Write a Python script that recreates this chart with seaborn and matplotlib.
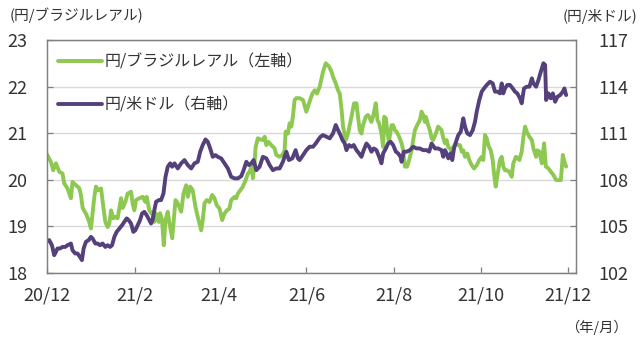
import matplotlib
matplotlib.use("Agg")
import matplotlib.pyplot as plt
from matplotlib.lines import Line2D
import seaborn as sns

# ---- data (days since 2020-12-01) ----
days_brl = [0, 3.1, 4.7, 6.6, 8.9, 11.2, 12.4, 14.7, 17.1, 18.2, 20.6, 22.9, 24.1, 25.3, 27.6, 29.5,
            31.1, 32.3, 33.5, 34.6, 36.5, 38.2, 39.8, 41.2, 42.8, 44, 45.2, 46.8, 48.2, 49.8, 52.2,
            53.3, 55.2, 56.8, 59.2, 60.3, 61.5, 62.7, 65, 67.3, 69.2, 70.1, 72, 74.3, 75.5, 76.7,
            78.6, 79.5, 80.9, 82.1, 83.3, 84.9, 86.1, 88, 89.1, 90.3, 91.9, 94.3, 95.9, 97.8, 98.9,
            100.6, 102.4, 104.3, 105.9, 108.3, 109.4, 110.6, 112.2, 114.1, 116, 117.6, 119.2, 121.1,
            123, 124.6, 126.3, 128.1, 129.3, 131.7, 132.8, 134, 135.6, 137.5, 139.4, 141, 142.2,
            143.4, 144.5, 145.7, 146.4, 148, 149.7, 151.5, 152.7, 153.9, 155.5, 157.4, 159.7, 160.9,
            163.2, 165.1, 166.7, 167.4, 169, 170.2, 171.4, 172.5, 173.7, 174.9, 177.2, 179.6, 181.9,
            183.8, 186.2, 187.8, 189.4, 191.3, 193.6, 195.5, 197.8, 199.5, 200.6, 202.5, 204.1,
            205.3, 206.5, 207.6, 209.5, 211.1, 212.3, 214.2, 215.3, 217, 218.1, 219.3, 220.5, 221.6,
            223.5, 225.1, 226.3, 227.5, 229.1, 230.5, 231.7, 232.9, 234.5, 235.7, 236.4, 237.6,
            238.5, 239.7, 241.6, 242.7, 243.9, 245.1, 246.9, 248.6, 249.7, 250.9, 252.5, 253.9,
            255.6, 256.7, 257.9, 259.5, 261.4, 262.6, 263.7, 264.9, 265.6, 267.2, 268.4, 269.6,
            270.7, 272.6, 274.2, 276.6, 277.8, 279, 280.1, 281.3, 282.5, 283.6, 284.8, 286.7, 288.3,
            289.5, 290.7, 291.8, 293, 294.6, 296, 297.7, 299.3, 301.2, 303, 304.7, 305.8, 307, 308.2,
            309.3, 311, 312.4, 313.3, 314.5, 315.9, 317.5, 318.7, 319.8, 321, 322.2, 324, 325.7,
            326.8, 328.7, 329.9, 331.1, 332.7, 333.9, 335.1, 336.2, 338.1, 339.8, 340.9, 342.8,
            343.7, 345.1, 346.8, 348.4, 349.6, 351.4, 353.1, 354.9, 356.8, 358.4, 360.1, 361.5,
            362.6, 363.8]
brl = [20.56, 20.38, 20.2, 20.35, 20.17, 20.13, 19.92, 19.81, 19.6, 19.95, 19.88, 19.82, 19.67, 19.39,
       19.27, 19.13, 18.95, 19.28, 19.63, 19.85, 19.77, 19.81, 19.41, 19.09, 18.98, 19.06, 19.34,
       19.17, 19.2, 19.17, 19.6, 19.39, 19.52, 19.7, 19.74, 19.49, 19.34, 19.56, 19.6, 19.63, 19.52,
       19.63, 19.34, 19.24, 19.09, 19.27, 19.09, 19.28, 19.13, 18.59, 19.13, 19.31, 19.06, 18.74,
       19.13, 19.56, 19.49, 19.31, 19.7, 19.88, 19.63, 19.85, 19.77, 19.41, 19.2, 18.91, 19.13,
       19.49, 19.56, 19.52, 19.67, 19.6, 19.45, 19.38, 19.13, 19.27, 19.34, 19.38, 19.56, 19.63,
       19.6, 19.7, 19.77, 19.85, 19.99, 20.13, 20.17, 20.28, 20.03, 20.38, 20.7, 20.89, 20.86,
       20.85, 20.92, 20.74, 20.81, 20.74, 20.67, 20.53, 20.49, 20.53, 20.63, 21.03, 20.99, 21.21,
       21.14, 21.35, 21.71, 21.75, 21.75, 21.71, 21.46, 21.64, 21.85, 21.92, 21.85, 22.0, 22.32,
       22.5, 22.43, 22.32, 22.21, 22.07, 21.92, 21.85, 21.53, 21.14, 20.85, 20.99, 21.17, 21.46,
       21.64, 21.64, 21.35, 21.06, 20.99, 21.17, 21.35, 21.39, 21.32, 21.24, 21.42, 21.64, 21.28,
       21.21, 20.99, 20.7, 21.35, 21.32, 21.06, 20.81, 21.17, 21.17, 21.06, 21.03, 20.92, 20.78,
       20.63, 20.28, 20.28, 20.42, 20.63, 20.85, 21.06, 21.17, 21.28, 21.46, 21.39, 21.24, 21.35,
       21.17, 21.06, 20.89, 20.85, 20.99, 21.14, 21.06, 20.89, 20.78, 20.85, 20.7, 20.67, 20.6,
       20.7, 20.78, 20.74, 20.74, 20.6, 20.63, 20.49, 20.56, 20.42, 20.31, 20.24, 20.31, 20.42,
       20.49, 20.42, 20.96, 20.89, 20.74, 20.63, 20.42, 20.13, 19.85, 20.13, 20.42, 20.49, 20.28,
       20.2, 20.2, 20.17, 20.06, 20.35, 20.49, 20.46, 20.42, 20.6, 20.92, 21.14, 21.03, 20.92,
       20.85, 20.67, 20.49, 20.63, 20.6, 20.35, 20.78, 20.28, 20.24, 20.17, 20.1, 19.99, 19.99,
       19.99, 20.53, 20.38, 20.28]

days_usd = [0, 1.9, 3.8, 5.4, 6.6, 7.7, 9.4, 11.2, 13.1, 14.7, 17.1, 18.2, 20.1, 21.7, 23.4, 24.8, 26,
            27.6, 29.5, 31.1, 32.3, 34.2, 35.8, 37.5, 39.3, 41.2, 42.8, 44.5, 45.9, 47.5, 49.1, 51,
            52.9, 54.5, 56.1, 57.5, 59.2, 60.8, 62.2, 63.8, 65.5, 66.9, 68.5, 70.1, 72, 73.2, 74.3,
            75.5, 76.7, 78.6, 80.2, 81.9, 83.3, 84.9, 86.6, 88, 89.6, 91.9, 94.3, 96.6, 98.9, 101.3,
            103.6, 105.9, 107.6, 109.4, 111.3, 112.9, 114.6, 116.4, 118.3, 119.9, 122.3, 124.6, 127,
            129.3, 131.7, 134, 136.4, 138, 139.9, 141.7, 143.4, 145, 146.9, 149.2, 151.5, 153.9,
            156.2, 158.5, 160.9, 163.2, 165.5, 167.9, 169.7, 172.1, 174.4, 176, 177.2, 179.6, 181.9,
            184.2, 186.6, 188.5, 190.1, 191.8, 193.6, 196, 198.3, 200.6, 202.5, 204.1, 205.8, 207.2,
            208.8, 210, 211.8, 213.5, 215.1, 217, 218.8, 220.5, 222.1, 224, 225.9, 227.5, 229.1,
            231, 232.9, 234.5, 235.7, 237.6, 239.2, 240.9, 242.7, 244.6, 246.2, 247.9, 248.6, 250.2,
            252.1, 254.4, 256.7, 259.1, 261.4, 263.7, 266.1, 267.9, 269.6, 272, 274.2, 276.6, 277.8,
            279, 280.1, 281.3, 283, 284.1, 285.3, 286.7, 288.3, 290, 291.8, 293, 294.6, 296.5, 298.4,
            300, 301.2, 303, 304.7, 306.3, 308.2, 310.5, 312.4, 314, 315.9, 317.5, 318.7, 319.8, 321,
            322.6, 324.5, 326.4, 328, 329.6, 331.5, 332.7, 334.3, 336.2, 338.1, 339.8, 340.9, 342.8,
            344.4, 346.1, 347.9, 349.1, 349.8, 351.4, 353.1, 354.5, 356.1, 357.7, 359.6, 361.5,
            362.6, 363.8]
usd = [103.99, 104.1, 103.77, 103.13, 103.34, 103.56, 103.56, 103.66, 103.66, 103.77, 103.88, 103.45,
       103.24, 103.24, 103.02, 102.81, 103.56, 103.99, 104.1, 104.31, 104.2, 103.88, 103.88, 103.77,
       103.88, 103.66, 103.77, 103.66, 103.77, 104.31, 104.63, 104.85, 105.06, 105.28, 105.5,
       105.39, 105.17, 104.63, 104.74, 105.06, 105.39, 105.82, 105.92, 105.71, 105.39, 105.17,
       105.39, 106.03, 106.57, 106.68, 106.68, 107.11, 108.18, 108.83, 109.05, 108.83, 109.05,
       108.72, 109.05, 109.26, 108.94, 108.72, 109.05, 109.15, 109.8, 110.23, 110.59, 110.44,
       110.01, 109.47, 109.58, 109.47, 109.37, 109.05, 108.72, 108.18, 108.08, 108.08, 108.23,
       108.61, 109.15, 108.94, 109.05, 109.26, 108.61, 108.83, 109.47, 109.37, 108.94, 108.61,
       108.72, 108.72, 109.15, 109.8, 109.26, 109.37, 109.9, 109.37, 109.26, 109.58, 109.9,
       110.12, 110.12, 110.33, 110.55, 110.76, 110.87, 110.76, 110.66, 110.98, 111.52, 111.19,
       110.87, 110.55, 110.33, 109.9, 110.23, 110.12, 110.23, 109.9, 109.69, 109.47, 109.9,
       110.33, 110.12, 109.8, 110.01, 109.9, 109.47, 109.05, 109.69, 110.01, 110.33, 110.44,
       110.23, 109.8, 109.69, 109.47, 109.15, 109.8, 109.8, 109.9, 110.12, 110.01, 110.01, 109.9,
       109.9, 109.8, 110.33, 110.01, 110.01, 109.9, 109.47, 109.9, 109.69, 109.37, 109.69, 109.26,
       110.01, 110.44, 110.87, 111.08, 111.95, 111.41, 110.98, 110.87, 111.19, 111.73, 112.38,
       113.13, 113.67, 113.88, 114.1, 114.31, 114.2, 113.67, 113.67, 113.56, 114.2, 113.56,
       113.88, 114.1, 114.1, 113.88, 113.67, 113.56, 113.24, 112.92, 113.88, 113.99, 113.99,
       114.53, 114.2, 113.99, 114.42, 114.96, 115.5, 115.39, 113.13, 113.56, 113.24, 113.56,
       113.02, 113.34, 113.45, 113.67, 113.88, 113.45]

month_ticks = [0, 62, 121, 182, 243, 304, 365]
month_labels = ["20/12", "21/2", "21/4", "21/6", "21/8", "21/10", "21/12"]
left_ticks = [18, 19, 20, 21, 22, 23]
right_ticks = [102, 105, 108, 111, 114, 117]
series_names = ["円/ブラジルレアル（左軸）", "円/米ドル（右軸）"]

assert len(days_brl) == len(brl), (len(days_brl), len(brl))
assert len(days_usd) == len(usd), (len(days_usd), len(usd))

GREEN = "#8DC850"
PURPLE = "#54407A"
TXT = "#333333"
FRAME = "#808080"
LW = 2.8

sns.set_theme(style="white")
plt.rcParams['font.family'] = ['Noto Sans CJK JP', 'DejaVu Sans']

fig = plt.figure(figsize=(6.4, 3.4), dpi=100)
ax = fig.add_axes([46.5 / 640, 1 - 272.7 / 340, (575.7 - 46.5) / 640, (272.7 - 40) / 340])
ax2 = ax.twinx()

sns.lineplot(x=days_brl, y=brl, ax=ax, color=GREEN, linewidth=LW, estimator=None, sort=False)
sns.lineplot(x=days_usd, y=usd, ax=ax2, color=PURPLE, linewidth=LW, estimator=None, sort=False)

ax.set_xlim(0, 370.5)
ax.set_ylim(18, 23)
ax2.set_ylim(102, 117)
ax.set_xticks(month_ticks)
ax.set_xticklabels(month_labels)
ax.set_yticks(left_ticks)
ax2.set_yticks(right_ticks)
ax.set_xlabel("")
ax.set_ylabel("")
ax2.set_ylabel("")

ax.set_axisbelow(True)
ax.yaxis.grid(True, color="#d9d9d9", linewidth=1.0)
ax.xaxis.grid(False)
ax2.grid(False)

for a in (ax, ax2):
    for s in a.spines.values():
        s.set_color(FRAME)
        s.set_linewidth(0.9)

ax.tick_params(axis="x", direction="in", length=4.5, width=0.9, color=FRAME, bottom=True,
               labelsize=13, labelcolor=TXT, pad=10)
ax.tick_params(axis="y", direction="in", length=4.5, width=0.9, color=FRAME, left=True,
               labelsize=13, labelcolor=TXT, pad=14)
ax2.tick_params(axis="y", direction="in", length=4.5, width=0.9, color=FRAME, right=True,
                left=False, labelsize=13, labelcolor=TXT, pad=16)

handles = [Line2D([], [], color=GREEN, linewidth=LW), Line2D([], [], color=PURPLE, linewidth=LW)]
ax2.legend(handles, series_names, loc="upper left", bbox_to_anchor=(0.021, 0.94), frameon=False,
           fontsize=11.5, handlelength=2.8, handletextpad=0.15, labelspacing=1.6, borderpad=0,
           borderaxespad=0, labelcolor=TXT)

fig.text(10 / 640, 1 - 15 / 340, "(円/ブラジルレアル)", fontsize=10.6, color=TXT, ha="left", va="center")
fig.text(637 / 640, 1 - 17 / 340, "(円/米ドル)", fontsize=10.6, color=TXT, ha="right", va="center")
fig.text(596.7 / 640, 1 - 327 / 340, "（年/月）", fontsize=10.3, color=TXT, ha="center", va="center")

fig.savefig("out.png", dpi=100)
